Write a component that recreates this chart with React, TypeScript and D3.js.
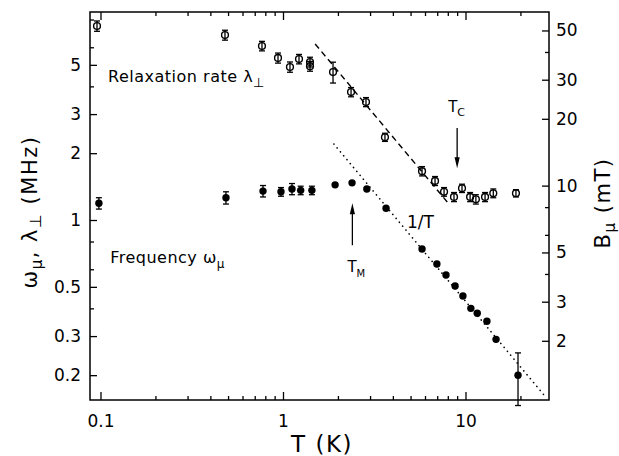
import React, { useEffect, useRef } from "react";
import * as d3 from "d3";

// relaxation rate lambda_perp (open circles), MHz
const relaxT = [0.0957, 0.481, 0.767, 0.939, 1.092, 1.224, 1.406, 1.406, 1.88, 2.36, 2.85, 3.62, 5.78, 6.81, 7.63, 8.65, 9.57, 10.6, 11.4, 12.8, 14.2, 18.9];
const relaxRate = [7.48, 6.81, 6.08, 5.37, 4.89, 5.31, 5.15, 4.93, 4.64, 3.77, 3.4, 2.36, 1.66, 1.5, 1.34, 1.27, 1.39, 1.27, 1.24, 1.27, 1.32, 1.32];
const relaxErr = [0.4, 0.35, 0.3, 0.28, 0.26, 0.26, 0.26, 0.25, 0.5, 0.18, 0.16, 0.1, 0.08, 0.07, 0.06, 0.06, 0.06, 0.06, 0.06, 0.06, 0.06, 0.05];

// muon precession frequency omega_mu (filled circles), MHz
const freqT = [0.098, 0.487, 0.777, 0.975, 1.12, 1.25, 1.44, 1.93, 2.39, 2.88, 3.67, 5.78, 6.97, 7.82, 8.77, 9.68, 10.7, 11.6, 13.1, 14.7, 19.4];
const freqVal = [1.19, 1.26, 1.35, 1.34, 1.38, 1.36, 1.36, 1.44, 1.47, 1.38, 1.13, 0.74, 0.634, 0.565, 0.504, 0.455, 0.4, 0.38, 0.35, 0.29, 0.2];
const freqErrUp = [0.07, 0.08, 0.08, 0.06, 0.08, 0.06, 0.06, 0, 0, 0, 0, 0, 0, 0, 0, 0, 0, 0, 0, 0, 0.052];
const freqErrDown = [0.07, 0.08, 0.08, 0.06, 0.08, 0.06, 0.06, 0, 0, 0, 0, 0, 0, 0, 0, 0, 0, 0, 0, 0, 0.054];

// 1/T guide lines
const dashedT = [1.5, 8.12];
const dashedVal = [6.21, 1.18];
const dottedT = [1.9, 26.9];
const dottedVal = [2.2, 0.163];

// axes
const xTicks = [0.1, 1, 10];
const xMinor = [0.2, 0.3, 0.4, 0.5, 0.6, 0.7, 0.8, 0.9, 2, 3, 4, 5, 6, 7, 8, 9, 20];
const yTicks = [0.2, 0.3, 0.5, 1, 2, 3, 5];
const yMinor = [0.4, 0.6, 0.8, 4, 6, 8];
const bTicks = [2, 3, 5, 10, 20, 30, 50];
const bMinor = [4, 6, 8, 40];
const mTperMHz = 7.0;

// transition temperatures
const Tc = 9.0;
const TM = 2.4;

const FONT = "DejaVu Sans";

export default function App() {
  const ref = useRef<SVGSVGElement>(null);

  useEffect(() => {
    const width = 619,
      height = 456;
    const left = 90,
      right = 549,
      top = 12,
      bottom = 400;

    const svg = d3.select(ref.current);
    svg.selectAll("*").remove();

    const x = d3.scaleLog().domain([0.0876, 28.68]).range([left, right]);
    const y = d3.scaleLog().domain([0.1546, 8.65]).range([bottom, top]);
    const yB = d3
      .scaleLog()
      .domain([0.1546 * mTperMHz, 8.65 * mTperMHz])
      .range([bottom, top]);

    const g = svg.append("g");

    // ---- axes ----
    const styleAxis = (sel: any, size: number) => {
      sel.select(".domain").remove();
      sel.selectAll("line").attr("stroke", "#000").attr("stroke-width", 1.3);
      sel
        .selectAll("text")
        .attr("font-family", FONT)
        .attr("font-size", size)
        .attr("fill", "#000");
    };

    g.append("g")
      .attr("transform", `translate(0,${bottom})`)
      .call(d3.axisBottom(x).tickValues(xTicks).tickSize(-8).tickPadding(15).tickFormat((d: any) => String(d)))
      .call((s: any) => styleAxis(s, 17));
    g.append("g")
      .attr("transform", `translate(0,${bottom})`)
      .call(d3.axisBottom(x).tickValues(xMinor).tickSize(-4).tickFormat(() => ""))
      .call((s: any) => styleAxis(s, 17));
    g.append("g")
      .attr("transform", `translate(0,${top})`)
      .call(d3.axisTop(x).tickValues(xTicks).tickSize(-8).tickFormat(() => ""))
      .call((s: any) => styleAxis(s, 17));
    g.append("g")
      .attr("transform", `translate(0,${top})`)
      .call(d3.axisTop(x).tickValues(xMinor).tickSize(-4).tickFormat(() => ""))
      .call((s: any) => styleAxis(s, 17));

    g.append("g")
      .attr("transform", `translate(${left},0)`)
      .call(d3.axisLeft(y).tickValues(yTicks).tickSize(-7).tickPadding(9).tickFormat((d: any) => String(d)))
      .call((s: any) => styleAxis(s, 17));
    g.append("g")
      .attr("transform", `translate(${left},0)`)
      .call(d3.axisLeft(y).tickValues(yMinor).tickSize(-4).tickFormat(() => ""))
      .call((s: any) => styleAxis(s, 17));

    g.append("g")
      .attr("transform", `translate(${right},0)`)
      .call(d3.axisRight(yB).tickValues(bTicks).tickSize(-7).tickPadding(7).tickFormat((d: any) => String(d)))
      .call((s: any) => styleAxis(s, 17));
    g.append("g")
      .attr("transform", `translate(${right},0)`)
      .call(d3.axisRight(yB).tickValues(bMinor).tickSize(-4).tickFormat(() => ""))
      .call((s: any) => styleAxis(s, 17));

    g.append("rect")
      .attr("x", left)
      .attr("y", top)
      .attr("width", right - left)
      .attr("height", bottom - top)
      .attr("fill", "none")
      .attr("stroke", "#000")
      .attr("stroke-width", 1.5);

    // ---- axis titles ----
    g.append("text")
      .attr("x", 322)
      .attr("y", 452)
      .attr("text-anchor", "middle")
      .attr("font-family", FONT)
      .attr("font-size", 23)
      .attr("letter-spacing", 1.5)
      .text("T (K)");

    const lt = g
      .append("text")
      .attr("transform", "translate(37,212) rotate(-90)")
      .attr("text-anchor", "middle")
      .attr("font-family", FONT)
      .attr("font-size", 21)
      .attr("letter-spacing", 1.5);
    lt.append("tspan").text("ω");
    lt.append("tspan").attr("dy", 5).attr("font-size", 15).text("μ");
    lt.append("tspan").attr("dy", -5).text(", λ");
    lt.append("tspan").attr("dy", 4).attr("font-size", 16).text("⊥");
    lt.append("tspan").attr("dy", -4).text(" (MHz)");

    const rt = g
      .append("text")
      .attr("transform", "translate(610,203) rotate(-90)")
      .attr("text-anchor", "middle")
      .attr("font-family", FONT)
      .attr("font-size", 21)
      .attr("letter-spacing", 1.5);
    rt.append("tspan").text("B");
    rt.append("tspan").attr("dy", 5).attr("font-size", 15).text("μ");
    rt.append("tspan").attr("dy", -5).text(" (mT)");

    // ---- guide lines ----
    const line = d3
      .line<number>()
      .x((d) => x(d[0]))
      .y((d) => y(d[1]));
    g.append("path")
      .attr("d", line(dashedT.map((t, i) => [t, dashedVal[i]]) as any))
      .attr("fill", "none")
      .attr("stroke", "#000")
      .attr("stroke-width", 1.4)
      .attr("stroke-dasharray", "6 4");
    g.append("path")
      .attr("d", line(dottedT.map((t, i) => [t, dottedVal[i]]) as any))
      .attr("fill", "none")
      .attr("stroke", "#000")
      .attr("stroke-width", 1.6)
      .attr("stroke-linecap", "round")
      .attr("stroke-dasharray", "0.1 5");

    // ---- error bars ----
    const errBar = (cx: number, lo: number, hi: number) => {
      const x0 = x(cx);
      g.append("line").attr("x1", x0).attr("x2", x0).attr("y1", y(lo)).attr("y2", y(hi)).attr("stroke", "#000").attr("stroke-width", 1.3);
      [lo, hi].forEach((v) =>
        g.append("line").attr("x1", x0 - 3).attr("x2", x0 + 3).attr("y1", y(v)).attr("y2", y(v)).attr("stroke", "#000").attr("stroke-width", 1.3)
      );
    };

    relaxT.forEach((t, i) => errBar(t, relaxRate[i] - relaxErr[i], relaxRate[i] + relaxErr[i]));
    freqT.forEach((t, i) => {
      if (freqErrUp[i] > 0) errBar(t, freqVal[i] - freqErrDown[i], freqVal[i] + freqErrUp[i]);
    });

    g.selectAll(".relax")
      .data(relaxT)
      .join("circle")
      .attr("class", "relax")
      .attr("cx", (d) => x(d))
      .attr("cy", (d, i) => y(relaxRate[i]))
      .attr("r", 3.4)
      .attr("fill", "none")
      .attr("stroke", "#000")
      .attr("stroke-width", 1.4);

    g.selectAll(".freq")
      .data(freqT)
      .join("circle")
      .attr("class", "freq")
      .attr("cx", (d) => x(d))
      .attr("cy", (d, i) => y(freqVal[i]))
      .attr("r", 3.7)
      .attr("fill", "#000");

    // ---- annotations ----
    const label = (px: number, py: number, main: string, sub: string, size: number, subSize: number, ls = 0.5) => {
      const t = g
        .append("text")
        .attr("x", px)
        .attr("y", py)
        .attr("font-family", FONT)
        .attr("font-size", size)
        .attr("letter-spacing", ls);
      t.append("tspan").text(main);
      t.append("tspan").attr("dy", size * 0.3).attr("font-size", subSize).text(sub);
      return t;
    };
    label(x(0.11), y(4.18), "Relaxation rate λ", "⊥", 16, 13);
    label(x(0.113), y(0.64), "Frequency ω", "μ", 16, 12);
    label(x(Tc) - 9, y(3.07), "T", "C", 15, 11, 0);
    label(x(TM) - 5, y(0.583), "T", "M", 15, 10, 0);

    g.append("text")
      .attr("x", x(4.78))
      .attr("y", y(0.92))
      .attr("font-family", FONT)
      .attr("font-size", 17)
      .text("1/T");

    // arrows
    const arrow = (t: number, from: number, to: number) => {
      const xa = x(t);
      const y0 = y(from),
        y1 = y(to);
      const dir = y1 > y0 ? 1 : -1;
      g.append("line").attr("x1", xa).attr("x2", xa).attr("y1", y0).attr("y2", y1 - dir * 8).attr("stroke", "#000").attr("stroke-width", 1.3);
      g.append("path")
        .attr("d", `M${xa - 2.6},${y1 - dir * 11}L${xa + 2.6},${y1 - dir * 11}L${xa},${y1}Z`)
        .attr("fill", "#000");
    };
    arrow(Tc, 2.6, 1.71);
    arrow(TM, 0.77, 1.19);
  }, []);

  return (
    <svg
      ref={ref}
      width={619}
      height={456}
      style={{ position: "absolute", left: 0, top: 0, background: "#fff" }}
    />
  );
}
